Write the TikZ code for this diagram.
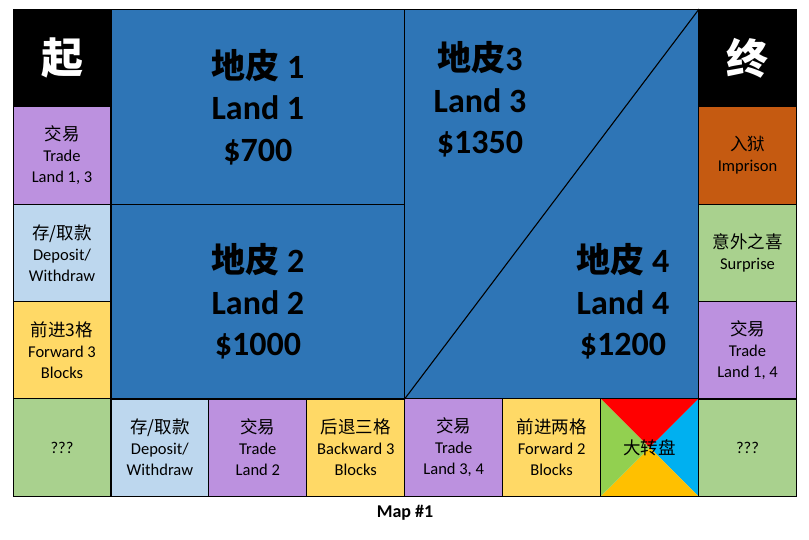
\documentclass[tikz,border=0pt]{standalone}
\usepackage{fontspec}
\setmainfont{Carlito}
\newfontfamily\cjk{Noto Sans CJK SC}
\newcommand{\zh}[1]{{\cjk\fontsize{17.5}{21}\selectfont #1}}
\definecolor{landblue}{HTML}{2E75B6}
\definecolor{tradepurple}{HTML}{BC91DF}
\definecolor{bankblue}{HTML}{BDD7EE}
\definecolor{moveyellow}{HTML}{FFD966}
\definecolor{luckgreen}{HTML}{A9D18E}
\definecolor{jailorange}{HTML}{C55A11}
\definecolor{wheelred}{HTML}{FF0000}
\definecolor{wheelblue}{HTML}{00B0F0}
\definecolor{wheelyellow}{HTML}{FFC000}
\definecolor{wheelgreen}{HTML}{92D050}
\tikzset{
  cell/.style={
    rectangle, draw=black, line width=1.1pt,
    minimum width=97.9pt, minimum height=97.4pt, inner sep=0pt,
    align=center, font=\fontsize{16.5}{21}\selectfont, text=black
  },
  cornercell/.style={cell, fill=black, text=white, font=\cjk\bfseries\fontsize{42}{42}\selectfont},
  landbox/.style={
    rectangle, draw=black, line width=1.1pt, fill=landblue, inner sep=0pt,
    align=center, font=\bfseries\fontsize{34}{41.5}\selectfont, text=black
  },
  landtext/.style={align=center, font=\bfseries\fontsize{34}{41.5}\selectfont, text=black},
  caption/.style={font=\bfseries\fontsize{18}{18}\selectfont}
}
\begin{document}
\begin{tikzpicture}[x=1pt,y=-1pt]
\useasboundingbox (0,0) rectangle (809,539);
% left column
\node[cornercell] (start) at (62,58.2) {起};
\node[cell, fill=tradepurple] (tradeA) at (62,155.5) {\zh{交易}\\Trade\\Land 1, 3};
\node[cell, fill=bankblue] (bankA) at (62,252.9) {\zh{存/取款}\\Deposit/\\Withdraw};
\node[cell, fill=moveyellow] (fwdthree) at (62,350.3) {\zh{前进3格}\\Forward 3\\Blocks};
% bottom row
\node[cell, fill=luckgreen] (unknownA) at (62,447.6) {???};
\node[cell, fill=bankblue] (bankB) at (159.9,447.6) {\zh{存/取款}\\Deposit/\\Withdraw};
\node[cell, fill=tradepurple] (tradeB) at (257.8,447.6) {\zh{交易}\\Trade\\Land 2};
\node[cell, fill=moveyellow] (backthree) at (355.8,447.6) {\zh{后退三格}\\Backward 3\\Blocks};
\node[cell, fill=tradepurple] (tradeC) at (453.7,447.6) {\zh{交易}\\Trade\\Land 3, 4};
\node[cell, fill=moveyellow] (fwdtwo) at (551.6,447.6) {\zh{前进两格}\\Forward 2\\Blocks};
\node[cell, draw=none] (wheel) at (649.6,447.6) {};
\fill[wheelred] (wheel.north west) -- (wheel.north east) -- (wheel.center) -- cycle;
\fill[wheelblue] (wheel.north east) -- (wheel.south east) -- (wheel.center) -- cycle;
\fill[wheelyellow] (wheel.south east) -- (wheel.south west) -- (wheel.center) -- cycle;
\fill[wheelgreen] (wheel.south west) -- (wheel.north west) -- (wheel.center) -- cycle;
\draw[line width=1.1pt] (wheel.north west) rectangle (wheel.south east);
\node (wheeltext) at (wheel.center) {\zh{大转盘}};
\node[cell, fill=luckgreen] (unknownB) at (747.5,447.6) {???};
% right column
\node[cornercell] (finish) at (747.5,58.2) {终};
\node[cell, fill=jailorange] (jail) at (747.5,155.5) {\zh{入狱}\\Imprison};
\node[cell, fill=luckgreen] (surprise) at (747.5,252.9) {\zh{意外之喜}\\Surprise};
\node[cell, fill=tradepurple] (tradeD) at (747.5,350.3) {\zh{交易}\\Trade\\Land 1, 4};
% lands
\node[landbox, minimum width=293.8pt, minimum height=194.7pt] (land1) at (257.9,106.9)
  {{\cjk 地皮} 1\\Land 1\\\$700};
\node[landbox, minimum width=293.8pt, minimum height=194.7pt] (land2) at (257.9,301.6)
  {{\cjk 地皮} 2\\Land 2\\\$1000};
\node[landbox, minimum width=293.8pt, minimum height=389.4pt] (landpair) at (551.7,204.2) {};
\draw[line width=1.1pt] (landpair.north east) -- (landpair.south west);
\node[landtext] (land3) at (480,99.5) {{\cjk 地皮}3\\Land 3\\\$1350};
\node[landtext] (land4) at (623,301.6) {{\cjk 地皮} 4\\Land 4\\\$1200};
\node[caption] (title) at (405,513) {Map \#1};
\end{tikzpicture}
\end{document}
